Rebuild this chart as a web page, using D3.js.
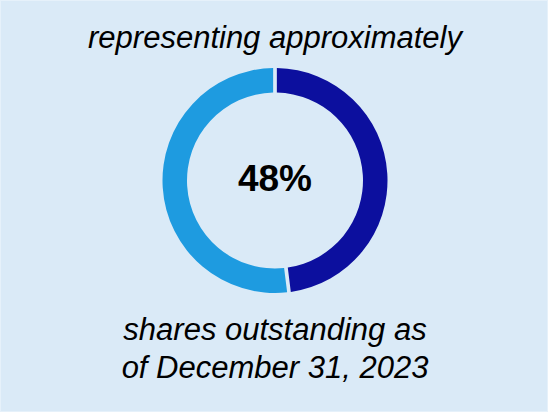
<!DOCTYPE html>
<html lang="en">
<head>
	<meta charset="UTF-8">
	<title>Donut</title>
	<script src="https://d3js.org/d3.v7.min.js"></script>
	<style>
		html,body{
			margin:0;
			padding:0;
			background:#daeaf7;
		}
		svg{
			display:block;
		}
		text{
			font-family:"Liberation Sans",Arial,sans-serif;
			fill:#000;
		}
	</style>
</head>
<body>
	<svg id="svg" width="548" height="412"></svg>
	<script>
		var labels = ["held", "other"],
			values = [48, 52],
			colors = ["#0c0f9e", "#1e9be0"],
			topText = ["representing approximately"],
			bottomText = ["shares outstanding as", "of December 31, 2023"];

		var svg = d3.select("svg"),
			w = 548,
			h = 412,
			cx = 275,
			cy = 180.5;

		svg.append("rect")
			.attr("x",0.5).attr("y",0.5)
			.attr("width",w-1).attr("height",h-1)
			.attr("fill","#daeaf7")
			.attr("stroke","#e6f1fa");

		var pie = d3.pie().sort(null).padAngle(0.026).value((d)=>{return d;});
		var arc = d3.arc().innerRadius(88).outerRadius(112.5);

		var g = svg.append("g").attr("transform","translate("+cx+","+cy+")");
		g.selectAll("path")
			.data(pie(values))
			.enter().append("path")
			.attr("d",arc)
			.attr("fill",(d,i)=>{return colors[i];});

		g.append("text")
			.attr("text-anchor","middle")
			.attr("y",10)
			.style("font-weight","bold")
			.style("font-size","37px")
			.text(values[0]+"%");

		svg.selectAll(".top")
			.data(topText)
			.enter().append("text")
			.attr("class","top")
			.attr("x",cx)
			.attr("y",48)
			.attr("text-anchor","middle")
			.style("font-style","italic")
			.style("font-size","31px")
			.text((d)=>{return d;});

		svg.selectAll(".bottom")
			.data(bottomText)
			.enter().append("text")
			.attr("class","bottom")
			.attr("x",cx)
			.attr("y",(d,i)=>{return 340+i*38;})
			.attr("text-anchor","middle")
			.style("font-style","italic")
			.style("font-size","31px")
			.text((d)=>{return d;});
	</script>
</body>
</html>
